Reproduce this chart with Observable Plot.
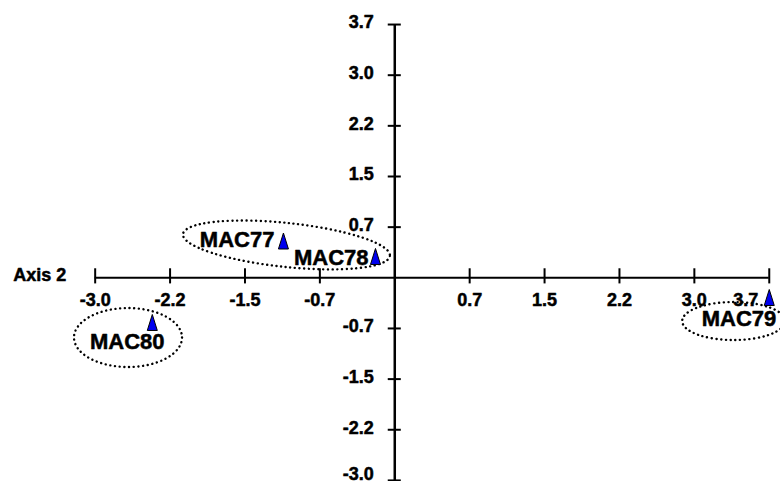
<!DOCTYPE html>
<html><head><meta charset="utf-8">
<script src="https://cdn.jsdelivr.net/npm/d3@7"></script>
<script src="https://cdn.jsdelivr.net/npm/@observablehq/plot@0.6"></script>
<style>body{margin:0;background:#fff} svg{display:block}</style>
</head><body><div id="chart"></div>
<script>
// Samples (scores on the two axes)
const names = ["MAC77", "MAC78", "MAC79", "MAC80"];
const axis1 = [-1.109, -0.192, 3.73, -2.415];
const axis2 = [0.542, 0.314, -0.290, -0.658];

// Tick positions (evenly spaced at 0.746) and their printed labels
const tickValues = [-2.984, -2.238, -1.492, -0.746, 0.746, 1.492, 2.238, 2.984, 3.73];
const xTickLabels = ["-3.0", "-2.2", "-1.5", "-0.7", "0.7", "1.5", "2.2", "3.0", "3.7"];
const yTickLabels = ["-3.0", "-2.2", "-1.5", "-0.7", "0.7", "1.5", "2.2", "3.0", "3.7"];
const axisLabel = "Axis 2";

// Groupings (dotted ellipses), in data units
const groupCx = [-1.074, 3.380, -2.652];
const groupCy = [0.476, -0.644, -0.887];
const groupRx = [1.036, 0.512, 0.538];
const groupRy = [0.324, 0.280, 0.434];
const groupAngle = [6, 0, 0];

// Label placement (styling)
const labelPlacement = {
  MAC77: {dx: -9, dy: -1, anchor: "end"},
  MAC78: {dx: -7, dy: 1.5, anchor: "end"},
  MAC79: {dx: 7, dy: 21, anchor: "end"},
  MAC80: {dx: -25, dy: 19, anchor: "middle"}
};

const points = names.map((n, i) => ({name: n, x: axis1[i], y: axis2[i]}));

const tallTriangle = {
  draw(context, size) {
    const r = Math.sqrt(size / Math.PI);
    context.moveTo(0, -1.6 * r);
    context.lineTo(r, 1.6 * r);
    context.lineTo(-r, 1.6 * r);
    context.closePath();
  }
};

function ellipses(index, scales) {
  const g = d3.create("svg:g")
    .attr("fill", "none")
    .attr("stroke", "#000")
    .attr("stroke-width", 2.4)
    .attr("stroke-linecap", "round")
    .attr("stroke-dasharray", "0.1 4.6");
  groupCx.forEach((cx, i) => {
    const px = scales.x(cx), py = scales.y(groupCy[i]);
    const rx = Math.abs(scales.x(cx + groupRx[i]) - px);
    const ry = Math.abs(scales.y(groupCy[i] + groupRy[i]) - py);
    g.append("ellipse")
      .attr("cx", px).attr("cy", py)
      .attr("rx", rx).attr("ry", ry)
      .attr("transform", `rotate(${groupAngle[i]},${px},${py})`);
  });
  return g.node();
}

const font = "'Liberation Sans', Arial, Helvetica, sans-serif";
const lastTick = tickValues.length - 1;
const textStyle = {fontWeight: "bold", fill: "#000", stroke: "#000", strokeWidth: 0.5, fontFamily: font};

const chart = Plot.plot({
  width: 780,
  height: 481,
  margin: 0,
  style: {background: "#fff", fontFamily: font},
  x: {domain: [-3.927, 3.842], axis: null},
  y: {domain: [-3.0, 4.084], axis: null},
  marks: [
    // axis lines
    Plot.ruleY([0], {x1: tickValues[0], x2: tickValues[lastTick], stroke: "#000", strokeWidth: 2}),
    Plot.ruleX([0], {y1: -3.1, y2: tickValues[lastTick], stroke: "#000", strokeWidth: 2.5}),
    // ticks
    Plot.ruleX(tickValues, {x: d => d, y1: -0.09, y2: 0.133, stroke: "#000", strokeWidth: 2}),
    Plot.ruleY(tickValues, {y: d => d, x1: -0.065, x2: 0.065, stroke: "#000", strokeWidth: 2}),
    // tick labels
    Plot.text(tickValues.slice(0, lastTick), {
      x: d => d, y: 0, text: (d, i) => xTickLabels[i], dy: 22, fontSize: 18, ...textStyle
    }),
    Plot.text([tickValues[lastTick]], {
      x: d => d, y: 0, text: () => xTickLabels[lastTick], dy: 22, dx: -11, textAnchor: "end",
      fontSize: 18, ...textStyle
    }),
    Plot.text(tickValues.slice(1), {
      x: 0, y: d => d, text: (d, i) => yTickLabels[i + 1], dx: -21, dy: -2, textAnchor: "end",
      fontSize: 18, ...textStyle
    }),
    Plot.text([tickValues[0]], {
      x: 0, y: d => d, text: () => yTickLabels[0], dx: -21, dy: -6, textAnchor: "end",
      fontSize: 18, ...textStyle
    }),
    Plot.text([axisLabel], {
      x: tickValues[0], y: 0, text: d => d, dx: -29, dy: -3, textAnchor: "end",
      fontSize: 18, ...textStyle
    }),
    // group ellipses
    ellipses,
    // points
    Plot.dot(points, {x: "x", y: "y", symbol: tallTriangle, r: 5, fill: "#0000ee", stroke: "#000", strokeWidth: 1}),
    // point labels
    ...points.map(p => Plot.text([p], {
      x: "x", y: "y", text: "name",
      dx: labelPlacement[p.name].dx, dy: labelPlacement[p.name].dy,
      textAnchor: labelPlacement[p.name].anchor,
      fontSize: 22, ...textStyle
    }))
  ]
});
document.getElementById("chart").append(chart);
</script>
</body></html>
